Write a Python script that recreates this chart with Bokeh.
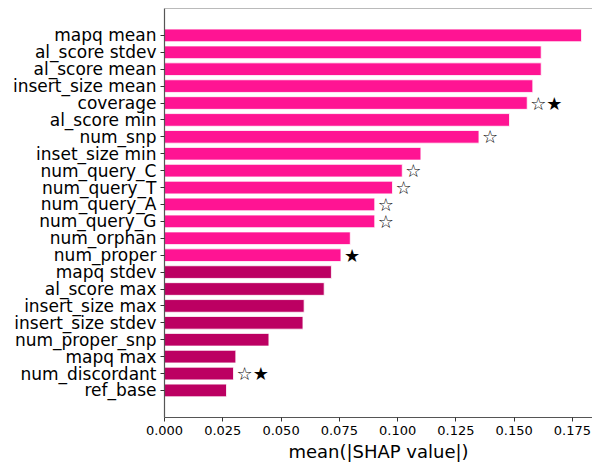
from bokeh.plotting import figure
from bokeh.models import Range1d, FixedTicker, PrintfTickFormatter, ColumnDataSource, Span
from bokeh.core.properties import value
from bokeh.embed import file_html
from bokeh.resources import INLINE

features = ["mapq mean", "al_score stdev", "al_score mean", "insert_size mean", "coverage",
            "al_score min", "num_snp", "inset_size min", "num_query_C", "num_query_T",
            "num_query_A", "num_query_G", "num_orphan", "num_proper", "mapq stdev",
            "al_score max", "insert_size max", "insert_size stdev", "num_proper_snp",
            "mapq max", "num_discordant", "ref_base"]
shap_values = [0.1789, 0.1616, 0.1616, 0.1580, 0.1556, 0.1480, 0.1349, 0.1100, 0.1020,
               0.0978, 0.0902, 0.0902, 0.0797, 0.0757, 0.0716, 0.0685, 0.0599, 0.0594,
               0.0448, 0.0306, 0.0296, 0.0266]
groups = ["top"] * 14 + ["rest"] * 8
marks = ["", "", "", "", "☆★", "", "☆", "", "☆", "☆", "☆", "☆", "", "★",
         "", "", "", "", "", "", "☆★", ""]
x_ticks = [0.0, 0.025, 0.05, 0.075, 0.1, 0.125, 0.15, 0.175]

colors_map = {"top": "#FF1493", "rest": "#BC0062"}
n = len(features)
ypos = [n - 1 - i for i in range(n)]
y_top = n - 1 + 1.59

src = ColumnDataSource(dict(y=ypos, v=shap_values, c=[colors_map[g] for g in groups], m=marks))

FONT = "DejaVu Sans"
p = figure(width=592, height=464, output_backend="svg", toolbar_location=None,
           x_range=Range1d(0, 0.1836), y_range=Range1d(-1.6, y_top),
           min_border_left=164, min_border_right=0, min_border_top=8, min_border_bottom=45)
p.hbar(y="y", right="v", left=0, height=0.75, fill_color="c", line_color="white",
       line_width=0.8, source=src)
p.text(x="v", y="y", text="m", source=src, x_offset=3, text_baseline="middle",
       text_align="left", text_font=value(FONT), text_font_size="18px", text_color="black")

p.xgrid.visible = False
p.ygrid.visible = False
p.outline_line_color = None
p.add_layout(Span(location=y_top, dimension="width", line_color="#777777", line_width=1.2))

p.xaxis.ticker = FixedTicker(ticks=x_ticks)
p.xaxis.formatter = PrintfTickFormatter(format="%.3f")
p.xaxis.axis_label = "mean(|SHAP value|)"
p.xaxis.axis_label_text_font = FONT
p.xaxis.axis_label_text_font_style = "normal"
p.xaxis.axis_label_text_font_size = "18px"
p.xaxis.axis_label_text_color = "black"
p.xaxis.axis_label_standoff = 3
p.xaxis.major_label_text_font = FONT
p.xaxis.major_label_text_font_size = "13px"

p.yaxis.ticker = FixedTicker(ticks=ypos)
p.yaxis.major_label_overrides = {y: f for y, f in zip(ypos, features)}
p.yaxis.major_label_text_font = FONT
p.yaxis.major_label_text_font_size = "17px"

for ax in (p.xaxis[0], p.yaxis[0]):
    ax.axis_line_color = "#555555"
    ax.axis_line_width = 1.2
    ax.major_tick_line_color = "#333333"
    ax.major_tick_in = 0
    ax.major_tick_out = 4
    ax.minor_tick_line_color = None
    ax.major_label_text_color = "black"
    ax.major_label_standoff = 4

open("out.html", "w").write(file_html(p, INLINE))
